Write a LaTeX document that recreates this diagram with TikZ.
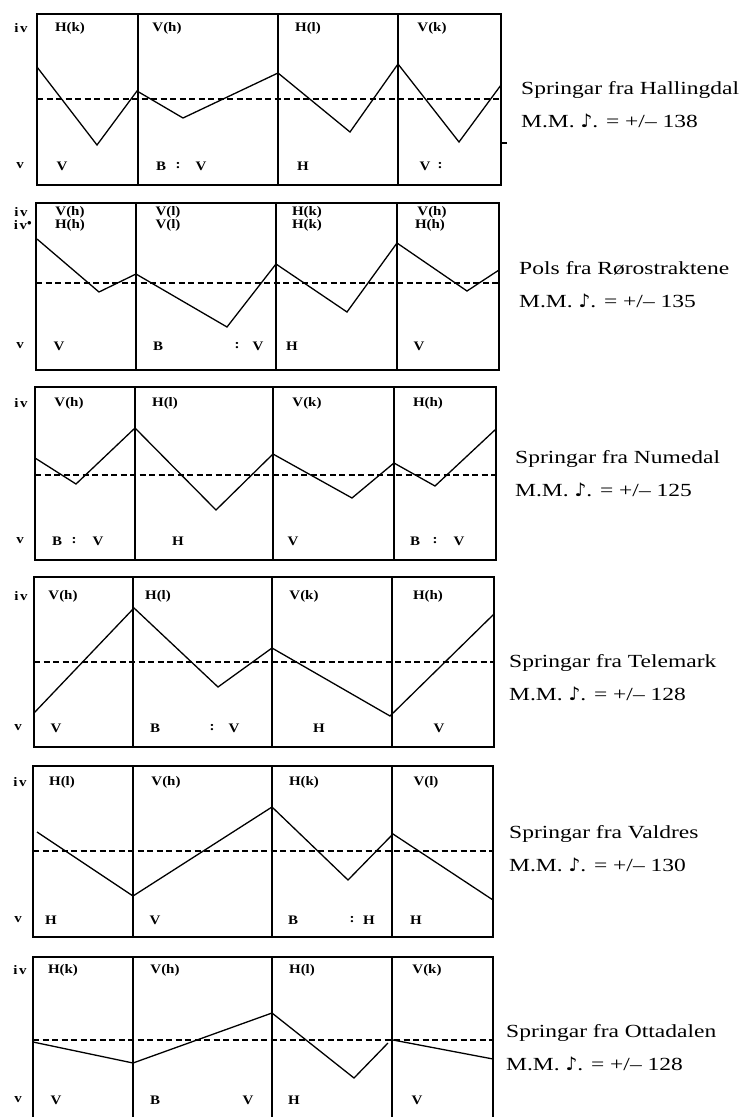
\documentclass[tikz,border=0pt]{standalone}
\usepackage{fontspec}
\setmainfont{Liberation Serif}
\newfontfamily\titlefont[FakeStretch=1.27]{Liberation Serif}
\newfontfamily\labelfont[FakeStretch=1.15]{Liberation Serif}
\newfontfamily\notefont{DejaVu Sans}
\usetikzlibrary{positioning}
\newcommand{\ivmark}{i\kern1.5pt v}
\tikzset{
  frame/.style={draw, line width=1.3pt},
  beat/.style={line width=1.2pt},
  meanline/.style={line width=1.2pt, dash pattern=on 6pt off 3.5pt},
  curve/.style={line width=1.3pt, line join=miter},
  lab/.style={inner sep=0pt, font=\labelfont\bfseries\fontsize{13}{13}\selectfont},
  title/.style={anchor=base west, inner sep=0pt,
                font=\titlefont\fontsize{18.5}{20}\selectfont}
}

\begin{document}
\begin{tikzpicture}[x=1pt, y=-1pt]
  \useasboundingbox (0,0) rectangle (743,1117);
  \clip (0,0) rectangle (743,1117);

  % Springar fra Hallingdal
  \draw[frame] (37,14) rectangle (501,185);
  \foreach \x in {138,278,398} \draw[beat] (\x,14) -- (\x,185);
  \draw[meanline] (37,99) -- (501,99);
  \draw[curve] (37,67) -- (97,145) -- (137,91) -- (183,118) -- (278,73)
    -- (350,132) -- (398,64) -- (459,142) -- (501,85);
  \draw[beat] (501,143) -- (507,143);
  \foreach \x/\t [count=\i] in {21/\ivmark,70/{H(k)},167/{V(h)},308/{H(l)},432/{V(k)}}
    \node[lab] (a-top\i) at (\x,28) {\t};
  \foreach \x/\t [count=\i] in {20/v,62/V,161/B,178/:,201/V,303/H,425/V,440/:}
    \node[lab] (a-bot\i) at (\x,166) {\t};

  % Pols fra Rorostraktene
  \draw[frame] (36,203) rectangle (499,370);
  \foreach \x in {136,276,397} \draw[beat] (\x,203) -- (\x,370);
  \draw[meanline] (36,283) -- (499,283);
  \draw[curve] (37,239) -- (99,292) -- (136,274) -- (227,327) -- (276,264)
    -- (347,312) -- (397,243) -- (467,291) -- (499,270);
  \foreach \x/\t [count=\i] in {21/\ivmark,70/{V(h)},168/{V(l)},307/{H(k)},432/{V(h)}}
    \node[lab] (b-top\i) at (\x,212) {\t};
  \foreach \x/\t [count=\i] in {23/{\ivmark$^{\bullet}$},70/{H(h)},168/{V(l)},307/{H(k)},430/{H(h)}}
    \node[lab] (b-sub\i) at (\x,225) {\t};
  \foreach \x/\t [count=\i] in {20/v,59/V,158/B,237/:,258/V,292/H,419/V}
    \node[lab] (b-bot\i) at (\x,346) {\t};

  % Springar fra Numedal
  \draw[frame] (35,387) rectangle (496,560);
  \foreach \x in {135,273,394} \draw[beat] (\x,387) -- (\x,560);
  \draw[meanline] (35,475) -- (496,475);
  \draw[curve] (35,458) -- (76,484) -- (135,428) -- (216,510) -- (273,454)
    -- (352,498) -- (394,463) -- (435,486) -- (496,429);
  \foreach \x/\t [count=\i] in {21/\ivmark,69/{V(h)},165/{H(l)},307/{V(k)},428/{H(h)}}
    \node[lab] (c-top\i) at (\x,403) {\t};
  \foreach \x/\t [count=\i] in {20/v,57/B,74/:,98/V,178/H,293/V,415/B,435/:,459/V}
    \node[lab] (c-bot\i) at (\x,541) {\t};

  % Springar fra Telemark
  \draw[frame] (34,577) rectangle (494,747);
  \foreach \x in {133,272,392} \draw[beat] (\x,577) -- (\x,747);
  \draw[meanline] (34,662) -- (494,662);
  \draw[curve] (34,713) -- (134,608) -- (218,687) -- (272,648) -- (390,716)
    -- (494,614);
  \foreach \x/\t [count=\i] in {21/\ivmark,63/{V(h)},158/{H(l)},304/{V(k)},428/{H(h)}}
    \node[lab] (d-top\i) at (\x,596) {\t};
  \foreach \x/\t [count=\i] in {18/v,56/V,155/B,212/:,234/V,319/H,439/V}
    \node[lab] (d-bot\i) at (\x,728) {\t};

  % Springar fra Valdres
  \draw[frame] (33,766) rectangle (493,937);
  \foreach \x in {133,272,392} \draw[beat] (\x,766) -- (\x,937);
  \draw[meanline] (33,851) -- (493,851);
  \draw[curve] (37,832) -- (133,896) -- (272,807) -- (348,880) -- (393,834)
    -- (493,900);
  \foreach \x/\t [count=\i] in {20/\ivmark,62/{H(l)},166/{V(h)},304/{H(k)},426/{V(l)}}
    \node[lab] (e-top\i) at (\x,782) {\t};
  \foreach \x/\t [count=\i] in {18/v,51/H,155/V,293/B,352/:,369/H,416/H}
    \node[lab] (e-bot\i) at (\x,920) {\t};

  % Springar fra Ottadalen
  \draw[frame] (33,957) rectangle (493,1135);
  \foreach \x in {133,272,392} \draw[beat] (\x,957) -- (\x,1135);
  \draw[meanline] (33,1040) -- (493,1040);
  \draw[curve] (33,1042) -- (133,1063) -- (272,1013) -- (354,1078) -- (388,1043);
  \draw[curve] (393,1040) -- (493,1059);
  \foreach \x/\t [count=\i] in {20/\ivmark,63/{H(k)},165/{V(h)},302/{H(l)},427/{V(k)}}
    \node[lab] (f-top\i) at (\x,970) {\t};
  \foreach \x/\t [count=\i] in {18/v,56/V,155/B,248/V,294/H,417/V}
    \node[lab] (f-bot\i) at (\x,1100) {\t};

  % titles
  \foreach \nm/\x/\y/\dance/\mm in {
      hall/521/94/{Springar fra Hallingdal}/138,
      pols/519/274/{Pols fra Rørostraktene}/135,
      numd/515/463/{Springar fra Numedal}/125,
      tele/509/667/{Springar fra Telemark}/128,
      vald/509/838/{Springar fra Valdres}/130,
      otta/506/1037/{Springar fra Ottadalen}/128}
  {
    \node[title] (\nm) at (\x,\y) {\dance};
    \node[title] (\nm-mm) at (\x,\y+33) {M.M. {\notefont ♪}. = +/– \mm};
  }
\end{tikzpicture}
\end{document}
